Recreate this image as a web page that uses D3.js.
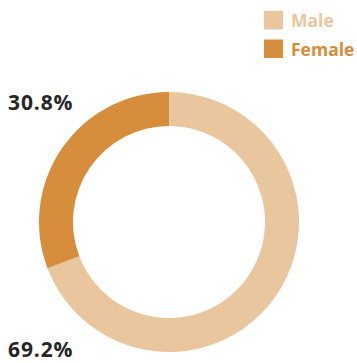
<!DOCTYPE html>
<html>
<head>
<meta charset="utf-8">
<script src="https://cdn.jsdelivr.net/npm/d3@7"></script>
<style>
  html, body { margin: 0; padding: 0; background: #fff; }
  svg { display: block; font-family: "Open Sans", sans-serif; }
</style>
</head>
<body>
<svg id="chart" width="357" height="363"></svg>
<script>
// Gender split
const categories = ["Male", "Female"];
const values = [69.2, 30.8];
const labels = ["69.2%", "30.8%"];
const colors = ["#E9C69D", "#D68D3C"];

const svg = d3.select("#chart");
const cx = 169, cy = 222, outerR = 130, innerR = 96;

const pie = d3.pie().sort(null).value(d => d)(values);
const arc = d3.arc().innerRadius(innerR).outerRadius(outerR);

const g = svg.append("g").attr("transform", `translate(${cx},${cy})`);
g.selectAll("path")
  .data(pie)
  .join("path")
  .attr("d", arc)
  .attr("fill", (d, i) => colors[i]);

// Percentage labels
const labelPos = [[8, 357], [8, 110]];
svg.selectAll("text.pct")
  .data(labels)
  .join("text")
  .attr("class", "pct")
  .attr("x", (d, i) => labelPos[i][0])
  .attr("y", (d, i) => labelPos[i][1])
  .attr("font-size", 21)
  .attr("font-weight", 700)
  .attr("letter-spacing", 0.9)
  .attr("fill", "#262626")
  .text(d => d);

// Legend
const legend = svg.append("g").attr("transform", "translate(264,11)");
const items = legend.selectAll("g")
  .data(categories)
  .join("g")
  .attr("transform", (d, i) => `translate(0,${i * 28.5})`);
items.append("rect")
  .attr("width", 19).attr("height", 18.5)
  .attr("fill", (d, i) => colors[i]);
items.append("text")
  .attr("x", 27).attr("y", 16)
  .attr("font-size", 17.5)
  .attr("font-weight", 700)
  .attr("fill", (d, i) => colors[i])
  .text(d => d);
</script>
</body>
</html>
